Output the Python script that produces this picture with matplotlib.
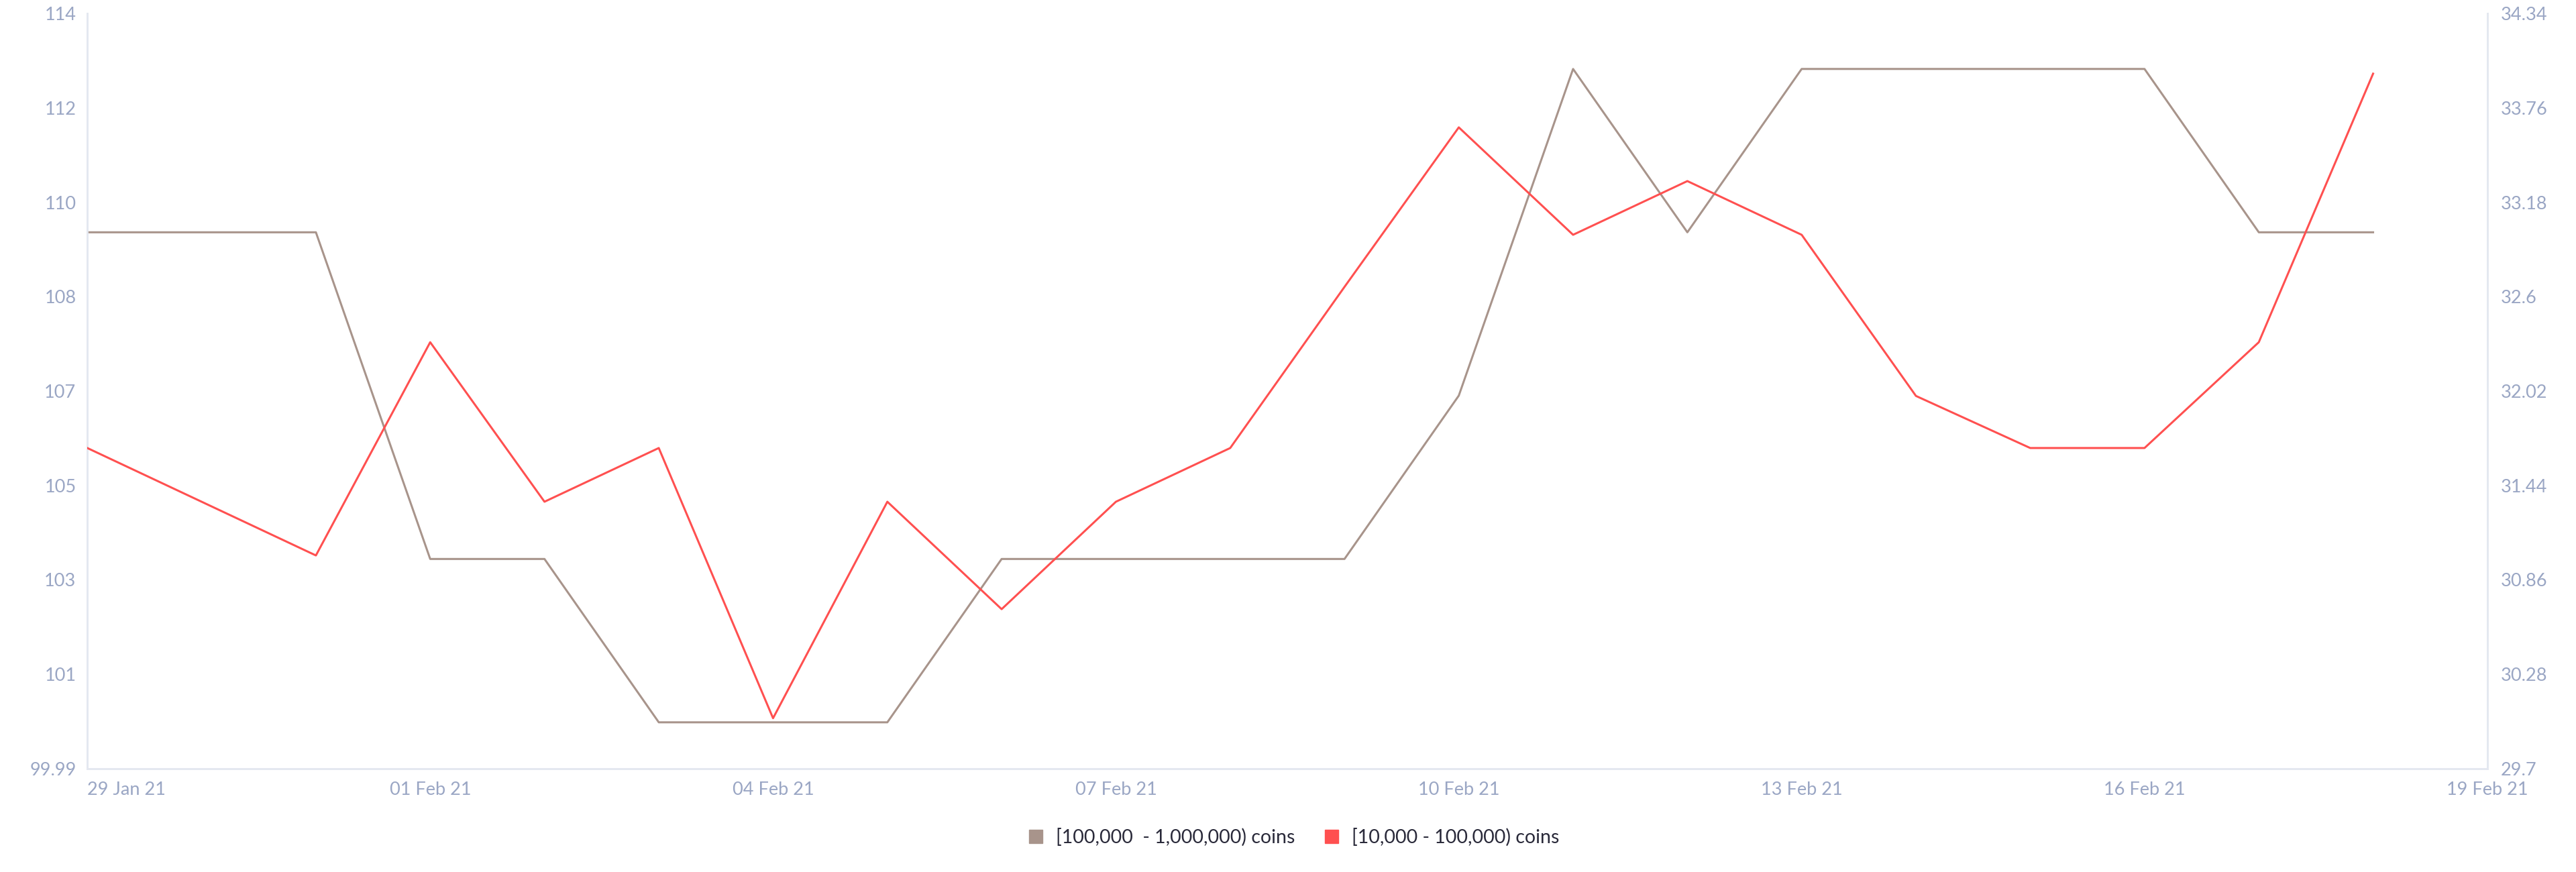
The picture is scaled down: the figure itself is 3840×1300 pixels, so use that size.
import matplotlib
matplotlib.use("Agg")
import matplotlib.pyplot as plt
import matplotlib.dates as mdates
import pandas as pd

plt.rcParams["font.family"] = ["Lato", "DejaVu Sans"]

# Daily points, 29 Jan 21 .. 18 Feb 21
dates = ["2021-01-29", "2021-01-30", "2021-01-31", "2021-02-01", "2021-02-02",
         "2021-02-03", "2021-02-04", "2021-02-05", "2021-02-06", "2021-02-07",
         "2021-02-08", "2021-02-09", "2021-02-10", "2021-02-11", "2021-02-12",
         "2021-02-13", "2021-02-14", "2021-02-15", "2021-02-16", "2021-02-17",
         "2021-02-18"]

# [100,000 - 1,000,000) coins, left axis
big_holders = [109.94, 109.94, 109.94, 103.88, 103.88, 100.85, 100.85, 100.85,
               103.88, 103.88, 103.88, 103.88, 106.91, 112.97, 109.94, 112.97,
               112.97, 112.97, 112.97, 109.94, 109.94]

# [10,000 - 100,000) coins, right axis
mid_holders = [31.67, 31.34, 31.01, 32.32, 31.34, 31.67, 30.01, 31.34, 30.68,
               31.34, 31.67, 32.66, 33.64, 32.98, 33.31, 32.98, 31.99, 31.67,
               31.67, 32.32, 33.97]

left_ticks = ["99.99", "101", "103", "105", "107", "108", "110", "112", "114"]
right_ticks = ["29.7", "30.28", "30.86", "31.44", "32.02", "32.6", "33.18", "33.76", "34.34"]
x_ticks = ["2021-01-29", "2021-02-01", "2021-02-04", "2021-02-07", "2021-02-10",
           "2021-02-13", "2021-02-16", "2021-02-19"]

labels = ["[100,000  - 1,000,000) coins", "[10,000 - 100,000) coins"]

brown = "#a8948b"
red = "#ff5050"
tick_col = "#9aa6c4"
axis_col = "#e4e8f0"

x = pd.to_datetime(dates)

fig = plt.figure(figsize=(38.4, 13), dpi=100)
ax = fig.add_axes([0.0339, 0.1185, 0.9317, 0.8661])
ax2 = ax.twinx()

ax.plot(x, big_holders, color=brown, lw=2.2, zorder=3)
ax2.plot(x, mid_holders, color=red, lw=2.2, zorder=3)

ax.set_ylim(99.99, 114.0)
ax2.set_ylim(29.7, 34.34)
n = len(left_ticks)
ax.set_yticks([99.99 + i * (114.0 - 99.99) / (n - 1) for i in range(n)])
ax.set_yticklabels(left_ticks)
ax2.set_yticks([29.7 + i * (34.34 - 29.7) / (n - 1) for i in range(n)])
ax2.set_yticklabels(right_ticks)

xt = pd.to_datetime(x_ticks)
ax.set_xlim(xt[0], xt[-1])
ax.set_xticks(xt)
ax.xaxis.set_major_formatter(mdates.DateFormatter("%d %b %y"))

for a in (ax, ax2):
    a.tick_params(length=0, labelsize=19.5, colors=tick_col)
    for s in a.spines.values():
        s.set_color(axis_col)
        s.set_linewidth(2)
    a.spines["top"].set_visible(False)
ax.tick_params(axis="y", pad=12)
ax2.tick_params(axis="y", pad=14)
ax.tick_params(axis="x", pad=14)
ax.get_xticklabels()[0].set_horizontalalignment("left")

handles = [plt.Line2D([], [], marker="s", ls="", color=brown, markersize=15),
           plt.Line2D([], [], marker="s", ls="", color=red, markersize=15)]
fig.legend(handles, labels, loc="center", bbox_to_anchor=(0.5, 0.04), ncol=2,
           frameon=False, fontsize=20.5, handletextpad=0.05, columnspacing=0.9,
           labelcolor="#2a2a3a")

fig.savefig("out.png", dpi=100, facecolor="white")
